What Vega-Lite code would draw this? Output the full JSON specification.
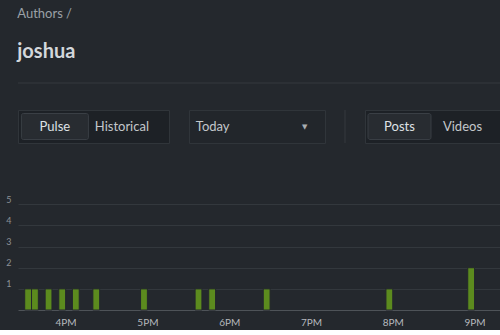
{
  "$schema": "https://vega.github.io/schema/vega-lite/v6.json",
  "background": "#24282d",
  "padding": {"left": 5, "top": 8, "right": 0, "bottom": 3},
  "spacing": 25,
  "title": {
    "text": "Authors /",
    "subtitle": "joshua",
    "anchor": "start",
    "dx": 12,
    "font": "Lato",
    "fontSize": 13,
    "fontWeight": "normal",
    "color": "#9ba1a7",
    "subtitleFont": "Lato",
    "subtitleFontSize": 20,
    "subtitleFontWeight": "bold",
    "subtitleColor": "#d3d7db",
    "subtitlePadding": 21,
    "offset": 12
  },
  "config": {
    "view": {"stroke": null}
  },
  "vconcat": [
    {
      "width": 482,
      "height": 1,
      "data": {"values": [{"line": "separator", "v": 0}]},
      "mark": {"type": "rule", "color": "#34393e", "strokeWidth": 1},
      "encoding": {
        "y": {"field": "v", "type": "quantitative", "scale": {"domain": [0, 1]},
              "axis": {"values": [0], "labelExpr": "'5'", "labelOpacity": 0, "labelFontSize": 9, "labelFont": "Lato",
                       "labelPadding": 7, "labelBaseline": "bottom", "ticks": false, "domain": false, "grid": false, "title": null}}
      }
    },
    {
      "spacing": 18,
      "hconcat": [
        {
          "width": 151,
          "height": 33,
          "view": {"fill": "#1d2126", "stroke": "#30353a"},
          "data": {"values": [{"group": "mode", "label": "Pulse", "active": true}, {"group": "mode", "label": "Historical", "active": false}]},
          "encoding": {
            "x": {"field": "label", "type": "nominal", "sort": null, "axis": null,
                  "scale": {"paddingInner": 0, "paddingOuter": 0.127, "align": 0.2}},
            "y": {"field": "group", "type": "nominal",
                  "scale": {"paddingInner": 0, "paddingOuter": 0.135},
                  "axis": {"labelExpr": "'5'", "labelOpacity": 0, "labelFontSize": 9, "labelFont": "Lato",
                           "labelPadding": 7, "ticks": false, "domain": false, "title": null}}
          },
          "layer": [
            {"transform": [{"filter": "datum.active"}],
             "mark": {"type": "rect", "fill": "#282c31", "stroke": "#3a3f45", "cornerRadius": 2}},
            {"mark": {"type": "text", "fontSize": 13, "font": "Lato", "baseline": "middle"},
             "encoding": {"text": {"field": "label"},
                          "color": {"condition": {"test": "datum.active", "value": "#dfe2e5"}, "value": "#c3c7cb"}}}
          ]
        },
        {
          "width": 136,
          "height": 33,
          "view": {"fill": "#22262b", "stroke": "#30353a"},
          "data": {"values": [{"group": "range", "label": "Today", "icon": "▼"}]},
          "encoding": {
            "y": {"field": "group", "type": "nominal", "axis": null}
          },
          "layer": [
            {"mark": {"type": "text", "align": "left", "fontSize": 13, "font": "Lato", "color": "#c3c7cb", "baseline": "middle"},
             "encoding": {"x": {"field": "label", "type": "nominal", "axis": null,
                                "scale": {"paddingInner": 0, "paddingOuter": 0, "domain": ["Today", "pad1", "pad2", "pad3", "pad4", "pad5", "pad6", "pad7", "pad8", "pad9"]}},
                          "text": {"field": "label"}}},
            {"mark": {"type": "text", "align": "center", "fontSize": 7, "font": "DejaVu Sans", "color": "#a9adb1", "baseline": "middle"},
             "encoding": {"x": {"field": "icon", "type": "nominal", "axis": null,
                                "scale": {"paddingInner": 0, "paddingOuter": 0, "domain": ["p1", "p2", "p3", "p4", "p5", "p6", "p7", "p8", "▼", "p9"]}},
                          "text": {"field": "icon"}}}
          ],
          "resolve": {"scale": {"x": "independent"}}
        },
        {
          "width": 1,
          "height": 33,
          "data": {"values": [{"line": "divider", "v": 0}]},
          "mark": {"type": "rule", "color": "#34393e"},
          "encoding": {"x": {"field": "v", "type": "quantitative", "scale": {"domain": [0, 1]}, "axis": null}}
        },
        {
          "width": 135,
          "height": 33,
          "view": {"fill": "#1d2126", "stroke": "#30353a"},
          "data": {"values": [{"group": "content", "label": "Posts", "active": true}, {"group": "content", "label": "Videos", "active": false}]},
          "encoding": {
            "x": {"field": "label", "type": "nominal", "sort": null, "axis": null,
                  "scale": {"paddingInner": 0, "paddingOuter": 0.0714, "align": 0.33}},
            "y": {"field": "group", "type": "nominal", "axis": null,
                  "scale": {"paddingInner": 0, "paddingOuter": 0.135}}
          },
          "layer": [
            {"transform": [{"filter": "datum.active"}],
             "mark": {"type": "rect", "fill": "#282c31", "stroke": "#3a3f45", "cornerRadius": 2}},
            {"mark": {"type": "text", "fontSize": 13, "font": "Lato", "baseline": "middle"},
             "encoding": {"text": {"field": "label"},
                          "color": {"condition": {"test": "datum.active", "value": "#dfe2e5"}, "value": "#c3c7cb"}}}
          ]
        }
      ]
    },
    {
      "width": 482,
      "height": 141,
      "data": {"values": [
        {"start": 930, "end": 935, "posts": 1},
        {"start": 935, "end": 940, "posts": 1},
        {"start": 945, "end": 950, "posts": 1},
        {"start": 955, "end": 960, "posts": 1},
        {"start": 965, "end": 970, "posts": 1},
        {"start": 980, "end": 985, "posts": 1},
        {"start": 1015, "end": 1020, "posts": 1},
        {"start": 1055, "end": 1060, "posts": 1},
        {"start": 1065, "end": 1070, "posts": 1},
        {"start": 1105, "end": 1110, "posts": 1},
        {"start": 1195, "end": 1200, "posts": 1},
        {"start": 1255, "end": 1260, "posts": 2}
      ]},
      "mark": {"type": "bar", "orient": "vertical", "color": "#5c8b1e", "stroke": "#24282d", "strokeWidth": 1},
      "encoding": {
        "x": {
          "field": "start", "type": "quantitative",
          "scale": {"domain": [928.75, 1275.0], "nice": false, "zero": false},
          "axis": {
            "title": null, "values": [960, 1020, 1080, 1140, 1200, 1260],
            "labelExpr": "(datum.value / 60 - 12) + 'PM'",
            "grid": false, "ticks": false, "domain": true, "domainColor": "#4e5358",
            "labelColor": "#b5b9bd", "labelFontSize": 10, "labelPadding": 7, "labelFont": "Lato"
          }
        },
        "x2": {"field": "end"},
        "y": {
          "field": "posts", "type": "quantitative",
          "scale": {"domain": [0, 6.67], "nice": false},
          "axis": {
            "title": null, "values": [1, 2, 3, 4, 5], "domain": false, "ticks": false,
            "grid": true, "gridColor": "#33383d", "labelPadding": 7, "labelFontSize": 9,
            "labelColor": "#8c9196", "labelFont": "Lato", "labelBaseline": "alphabetic", "labelOffset": -2
          }
        }
      }
    }
  ]
}
